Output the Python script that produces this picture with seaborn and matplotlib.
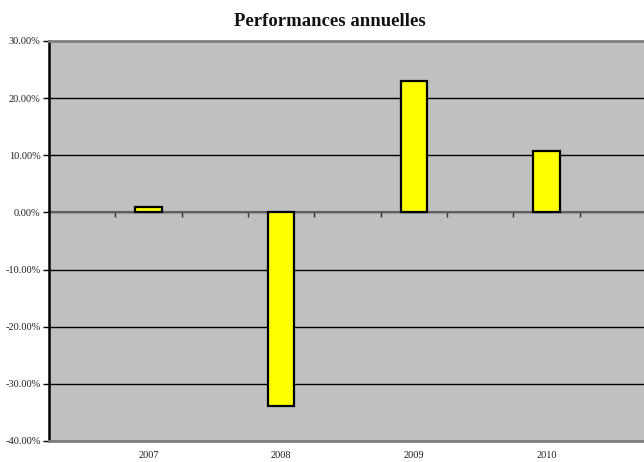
import matplotlib
matplotlib.use("Agg")
import matplotlib.pyplot as plt
import seaborn as sns
import pandas as pd
from matplotlib.ticker import FixedLocator, FuncFormatter

years = ["2007", "2008", "2009", "2010"]
values = [0.9, -33.8, 23.0, 10.7]
y_ticks = [-40, -30, -20, -10, 0, 10, 20, 30]
title = "Performances annuelles"

# category slots: an empty slot before each year and one after the last
order = []
for i, y in enumerate(years):
    order.append(f"_gap{i}")
    order.append(y)
order.append(f"_gap{len(years)}")

df = pd.DataFrame({"year": years, "perf": values})

sns.set_theme(style="white")
plt.rcParams["font.family"] = ["Liberation Serif", "DejaVu Serif"]

fig = plt.figure(figsize=(6.44, 4.62), dpi=100)
ax = fig.add_axes([49 / 644, 21 / 462, 597 / 644, 400 / 462])
ax.set_facecolor("#C0C0C0")

sns.barplot(data=df, x="year", y="perf", order=order, color="#FFFF00",
            saturation=1, width=0.4, edgecolor="black", linewidth=1.6,
            errorbar=None, ax=ax, zorder=3)

ax.set_xlim(-0.5, len(order) - 0.5)
ax.set_ylim(-40, 30)
ax.set_xlabel("")
ax.set_ylabel("")

# y axis
ax.yaxis.set_major_locator(FixedLocator(y_ticks))
ax.yaxis.set_major_formatter(FuncFormatter(lambda v, p: f"{v:.2f}%"))
ax.tick_params(axis="y", which="major", direction="out", length=4, width=1,
               color="black", labelsize=7.5, pad=2, left=True,
               labelcolor="#202020")
ax.yaxis.grid(True, color="black", linewidth=1, zorder=1)
ax.set_axisbelow(True)

# x labels at year slots, no tick marks
year_pos = [order.index(y) for y in years]
ax.set_xticks(year_pos)
ax.set_xticklabels(years)
ax.tick_params(axis="x", which="major", length=0, labelsize=7.5, pad=7,
               labelcolor="#202020")

for s in ["top", "bottom", "right"]:
    ax.spines[s].set_color("#808080")
    ax.spines[s].set_linewidth(2)
ax.spines["left"].set_color("black")
ax.spines["left"].set_linewidth(1.8)
for s in ax.spines.values():
    s.set_zorder(4)

# category axis crossing at zero with boundary tick marks
zero_frac = (0 - (-40)) / (30 - (-40))
sec = ax.secondary_xaxis(zero_frac)
sec.xaxis.set_ticks_position("bottom")
sec.set_xticks([i + 0.5 for i in range(len(order) - 1)])
sec.set_xticklabels([])
sec.tick_params(axis="x", which="major", direction="out", length=3.5,
                width=1, color="#303030", bottom=True, top=False)
for s in ["bottom", "top"]:
    sec.spines[s].set_color("#606060")
    sec.spines[s].set_linewidth(1.5)
sec.set_zorder(2)

fig.text(330 / 644, (462 - 26) / 462, title, ha="center", va="baseline",
         fontsize=13.5, fontweight="bold", color="#111111")

fig.savefig("out.png", dpi=100)
